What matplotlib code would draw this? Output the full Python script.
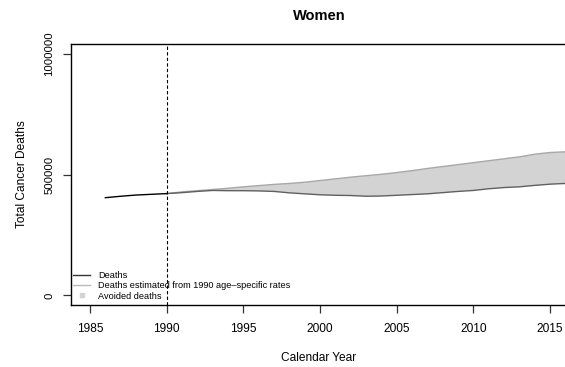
import matplotlib
matplotlib.use("Agg")
import matplotlib.pyplot as plt
from matplotlib.lines import Line2D
import numpy as np

plt.rcParams['font.family'] = ['Liberation Sans', 'DejaVu Sans']

# Observed total cancer deaths among women
years = list(range(1986, 2017))
deaths = [404000, 410000, 415000, 418000, 421000, 425000, 430000, 434000,
          433000, 433000, 432000, 430000, 424000, 420000, 416000, 414000,
          413000, 410000, 411000, 414000, 417000, 420000, 425000, 430000,
          434000, 441000, 446000, 449000, 455000, 460000, 463000]

# Deaths expected if 1990 age-specific rates had persisted
est_years = list(range(1990, 2017))
expected = [421000, 428000, 433000, 438000, 443000, 449000, 454000, 459000,
            463000, 468000, 475000, 482000, 489000, 495000, 501000, 508000,
            516000, 525000, 533000, 541000, 549000, 557000, 565000, 573000,
            584000, 591000, 594000]

baseline_year = 1990
x_ticks = [1985, 1990, 1995, 2000, 2005, 2010, 2015]
y_ticks = [0, 500000, 1000000]

fig = plt.figure(figsize=(5.65, 3.67), dpi=100)
ax = fig.add_axes([71 / 565, 1 - 305 / 367, 496 / 565, (305 - 44) / 367])

yrs = np.array(years)
d = np.array(deaths)
ey = np.array(est_years)
ex = np.array(expected)
d_after = d[yrs >= baseline_year]

ax.fill_between(ey, d_after, ex, facecolor='#d3d3d3', edgecolor='none', zorder=1)
ax.plot(ey, ex, color='#a8a8a8', lw=1.0, zorder=2)
ax.plot(ey, d_after, color='#606060', lw=1.0, zorder=2)
ax.plot(yrs[yrs <= baseline_year], d[yrs <= baseline_year], color='black', lw=1.0, zorder=3)
ax.axvline(baseline_year, color='black', lw=0.8, ls=(0, (3, 2)), zorder=4)

ax.set_xlim(1983.76, 2016.1)
ax.set_ylim(-40000, 1040000)
ax.set_xticks(x_ticks)
ax.set_yticks(y_ticks)
ax.set_yticklabels([str(v) for v in y_ticks], rotation=90, va='center')
ax.tick_params(axis='x', length=6, width=0.9, pad=7, labelsize=8.6, color='#333333')
ax.tick_params(axis='y', length=6, width=0.9, pad=6, labelsize=8.2, color='#333333')
for s in ax.spines.values():
    s.set_linewidth(1.0)
    s.set_color('black')

ax.set_title('Women', fontsize=10.5, fontweight='bold', pad=17.5)
ax.set_xlabel('Calendar Year', fontsize=8.6, labelpad=12)
ax.set_ylabel('Total Cancer Deaths', fontsize=8.6, labelpad=12)

handles = [
    Line2D([], [], color='#333333', lw=1.0),
    Line2D([], [], color='#b8b8b8', lw=1.0),
    Line2D([], [], color='#d3d3d3', marker='s', markersize=3, ls='none'),
]
labels = ['Deaths', 'Deaths estimated from 1990 age\u2013specific rates', 'Avoided deaths']
ax.legend(handles, labels, loc='lower left', bbox_to_anchor=(0.0, 0.01),
          frameon=False, fontsize=6.6, handlelength=1.9, handletextpad=0.85,
          labelspacing=0.12, borderpad=0.2, borderaxespad=0.0)

fig.savefig('out.png', dpi=100)
